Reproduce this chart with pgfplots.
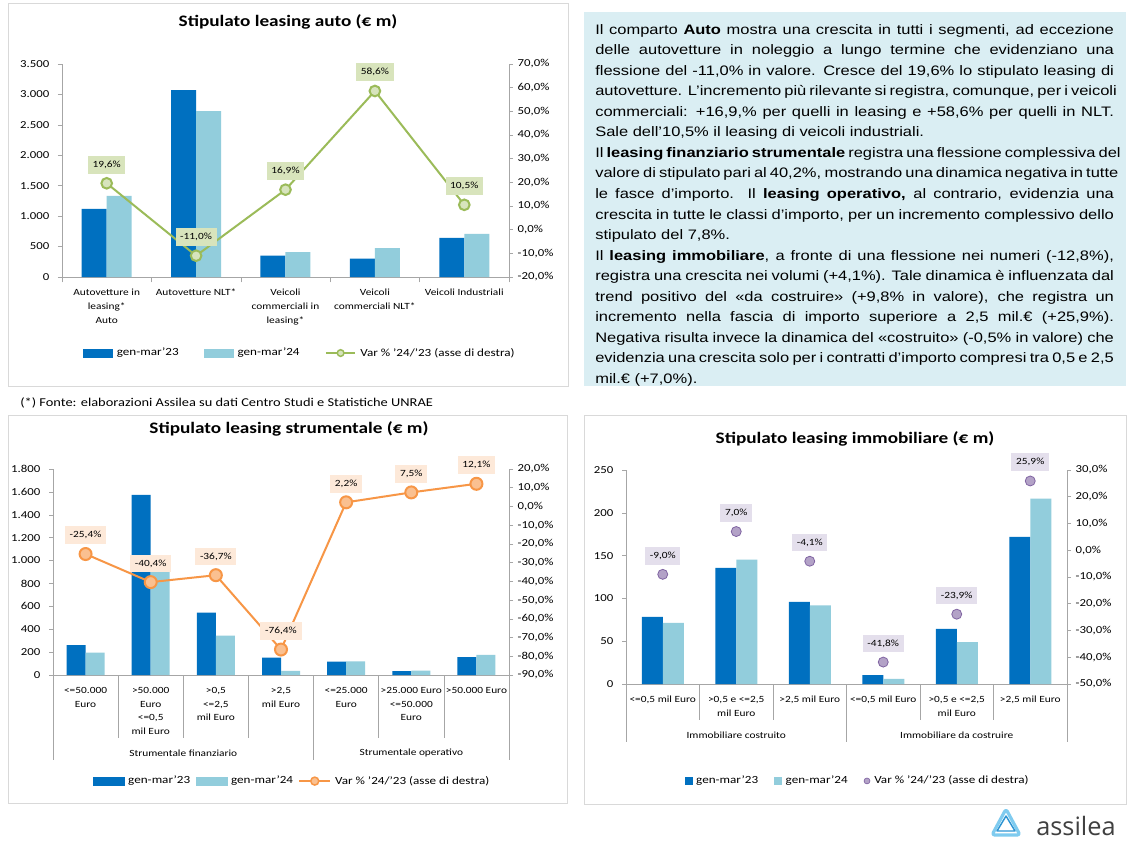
\documentclass[border=0pt]{standalone}
\usepackage{fontspec}
\setmainfont{Carlito}[FakeStretch=1.2]
\newfontfamily\arialf{Liberation Sans}[FakeStretch=1.2]
\newfontfamily\logof{Open Sans}
\usepackage{pgfplots}
\pgfplotsset{compat=1.18}
\definecolor{c23}{HTML}{0070C0}
\definecolor{c24}{HTML}{92CDDC}
\definecolor{lgreen}{HTML}{9BBB59}
\definecolor{lgreenfill}{HTML}{D7E4BD}
\definecolor{lgreenlab}{HTML}{D8E4BC}
\definecolor{lor}{HTML}{F79646}
\definecolor{lorfill}{HTML}{FAC090}
\definecolor{lorlab}{HTML}{FDE9D9}
\definecolor{lpu}{HTML}{8064A2}
\definecolor{lpufill}{HTML}{B3A2C7}
\definecolor{lpulab}{HTML}{E4DFEC}
\definecolor{axgray}{HTML}{A6A6A6}
\definecolor{framegray}{HTML}{D9D9D9}
\definecolor{boxblue}{HTML}{DAEEF3}
\definecolor{logoblue}{HTML}{2E95D3}
\definecolor{logolight}{HTML}{7FCBEF}
\definecolor{logogray}{HTML}{404040}
\pgfkeys{/pgf/number format/assume math mode=true}
\pgfplotsset{
  base/.style={scale only axis, anchor=south west, clip=false,
    axis line style={draw=axgray}, tick style={draw=axgray, thin},
    tick align=outside, major tick length=3pt,
    yticklabel style={font=\fontsize{8}{10}\selectfont},
    xticklabel style={font=\fontsize{7.1}{10.3}\selectfont, align=center, anchor=north, inner sep=0pt, yshift=-6pt},
  },
  leftax/.style={axis y line*=left, axis x line*=bottom, scaled y ticks=false,
    yticklabel style={/pgf/number format/.cd, fixed, 1000 sep={.}, /tikz/.cd, xshift=-3pt},
    major x tick style={draw=none}},
  rightax/.style={axis y line*=right, axis x line=none,
    yticklabel={\pgfmathprintnumber[fixed,fixed zerofill,precision=1,use comma]{\tick}\%}},
  bar23/.style={ybar, fill=c23, draw=none},
  bar24/.style={ybar, fill=c24, draw=none},
  pctlabels/.style={nodes near coords={\pgfmathprintnumber[fixed,fixed zerofill,precision=1,use comma]{\pgfplotspointmeta}\%},
    every node near coord/.append style={font=\fontsize{7.1}{8}\selectfont, fill=#1, inner xsep=3.5pt, inner ysep=3.8pt, anchor=center, yshift=14pt, text=black}},
  leg/.style 2 args={legend style={at={#1}, anchor=center, draw=none, fill=none, font=\fontsize{8.2}{10}\selectfont,
    /tikz/every even column/.append style={column sep=#2},
    /tikz/every odd column/.append style={column sep=1pt}}, legend columns=-1, legend cell align=left},
}
\newcommand\jl[1]{\hbox to 389pt{#1}}
\begin{document}
\begin{tikzpicture}
\begin{scope}[x=0.75pt,y=-0.75pt]
\path[use as bounding box] (0,0) rectangle (1146,856);
\fill[white] (0,0) rectangle (1146,856);
\draw[framegray, line width=0.6pt] (8,3) rectangle (568,386);
\draw[framegray, line width=0.6pt] (8,415) rectangle (567,803);
\draw[framegray, line width=0.6pt] (584,415) rectangle (1126,804);
\fill[boxblue] (584,12) rectangle (1126,386);
\node[anchor=north west, inner sep=0pt] at (595,24) {\vbox{\arialf\fontsize{10.3}{15.4}\selectfont
\jl{Il comparto \textbf{Auto} mostra una crescita in tutti i segmenti, ad eccezione}
\jl{delle autovetture in noleggio a lungo termine che evidenziano una}
\jl{flessione del -11,0\% in valore. Cresce del 19,6\% lo stipulato leasing di}
\jl{autovetture. L’incremento più rilevante si registra, comunque, per i veicoli}
\jl{commerciali: +16,9,\% per quelli in leasing e +58,6\% per quelli in NLT.}
\hbox{Sale dell’10,5\% il leasing di veicoli industriali.}
\jl{Il \textbf{leasing finanziario strumentale} registra una flessione complessiva del}
\jl{valore di stipulato pari al 40,2\%, mostrando una dinamica negativa in tutte}
\jl{le fasce d’importo. Il \textbf{leasing operativo,} al contrario, evidenzia una}
\jl{crescita in tutte le classi d’importo, per un incremento complessivo dello}
\hbox{stipulato del 7,8\%.}
\jl{Il \textbf{leasing immobiliare}, a fronte di una flessione nei numeri (-12,8\%),}
\jl{registra una crescita nei volumi (+4,1\%). Tale dinamica è influenzata dal}
\jl{trend positivo del «da costruire» (+9,8\% in valore), che registra un}
\jl{incremento nella fascia di importo superiore a 2,5 mil.€ (+25,9\%).}
\jl{Negativa risulta invece la dinamica del «costruito» (-0,5\% in valore) che}
\jl{evidenzia una crescita solo per i contratti d’importo compresi tra 0,5 e 2,5}
\hbox{mil.€ (+7,0\%).}}};
\node[font=\bfseries\fontsize{12}{14}\selectfont] at (288,22) {Stipulato leasing auto (€ m)};
\node[font=\bfseries\fontsize{12}{14}\selectfont] at (289,429) {Stipulato leasing strumentale (€ m)};
\node[font=\bfseries\fontsize{12}{14}\selectfont] at (855,439) {Stipulato leasing immobiliare (€ m)};
\node[anchor=west, font=\fontsize{9}{10}\selectfont, inner sep=0pt] at (20,403) {(*) Fonte: elaborazioni Assilea su dati Centro Studi e Statistiche UNRAE};
\draw[logolight, line width=2.4pt, line join=round, rounded corners=2pt] (1006,809) -- (1020,835) -- (992,835) -- cycle;
\draw[logoblue, line width=1.1pt, line join=round] (1006,816) -- (1015,831) -- (997,831) -- cycle;
\node[anchor=west, font=\logof\fontsize{19}{20}\selectfont, text=logogray, inner sep=0pt] at (1036,826) {assilea};
\end{scope}

% ---------- Chart 1: auto ----------
\begin{axis}[base, leftax, at={(46.5pt,-207.75pt)}, width=335.25pt, height=159.75pt,
  xmin=-0.5, xmax=4.5, ymin=0, ymax=3500, ytick={0,500,...,3500},
  xtick={0,...,4},
  xticklabels={{Autovetture in\\leasing*\\Auto},{Autovetture NLT*},{Veicoli\\commerciali in\\leasing*},{Veicoli\\commerciali NLT*},{Veicoli Industriali}},
  minor xtick={-0.5,0.5,...,4.5}, minor tick length=4pt]
\addplot[bar23, bar width=18.75pt, bar shift=-9.375pt] coordinates {(0,1120) (1,3072) (2,350) (3,300) (4,641)};
\addplot[bar24, bar width=18.75pt, bar shift=9.375pt] coordinates {(0,1335) (1,2727) (2,409) (3,476) (4,707)};
\end{axis}
\begin{axis}[base, rightax, at={(46.5pt,-207.75pt)}, width=335.25pt, height=159.75pt,
  xmin=-0.5, xmax=4.5, ymin=-20, ymax=70, ytick={-20,-10,...,70}, leg={(0.533,-0.357)}{17pt}]
\addlegendimage{legend image code/.code={\fill[c23] (0pt,-3pt) rectangle (21.75pt,3pt);}}
\addlegendentry{gen-mar'23}
\addlegendimage{legend image code/.code={\fill[c24] (0pt,-3pt) rectangle (21.75pt,3pt);}}
\addlegendentry{gen-mar'24}
\addlegendimage{legend image code/.code={\draw[lgreen, line width=1.5pt] (0pt,0pt) -- (22pt,0pt); \draw[lgreen, line width=1.1pt, fill=lgreenfill] (11pt,0pt) circle (2.5pt);}}
\addlegendentry{Var \% '24/'23 (asse di destra)}
\addplot[forget plot, lgreen, line width=1.5pt, mark=*, mark size=4pt, mark options={fill=lgreenfill, draw=lgreen, line width=1.5pt}, pctlabels=lgreenlab]
  coordinates {(0,19.6) (1,-11.0) (2,16.9) (3,58.6) (4,10.5)};
\end{axis}

% ---------- Chart 2: strumentale ----------
\begin{axis}[base, leftax, at={(39.75pt,-506.25pt)}, width=342pt, height=154.5pt,
  xmin=-0.5, xmax=6.5, ymin=0, ymax=1800, ytick={0,200,...,1800},
  xtick={0,...,6},
  xticklabels={{<=50.000\\Euro},{>50.000\\Euro\\<=0,5\\mil Euro},{>0,5\\<=2,5\\mil Euro},{>2,5\\mil Euro},{<=25.000\\Euro},{>25.000 Euro\\<=50.000\\Euro},{>50.000 Euro}}]
\addplot[bar23, bar width=14.25pt, bar shift=-7.125pt] coordinates {(0,262) (1,1575) (2,545) (3,151) (4,117) (5,35) (6,157)};
\addplot[bar24, bar width=14.25pt, bar shift=7.125pt] coordinates {(0,195) (1,938) (2,345) (3,36) (4,120) (5,37.6) (6,176)};
\pgfplotsinvokeforeach{0.5,1.5,2.5,4.5,5.5}{\draw[axgray] (axis cs:#1,0) -- ([yshift=-47.25pt]axis cs:#1,0);}
\pgfplotsinvokeforeach{-0.5,3.5,6.5}{\draw[axgray] (axis cs:#1,0) -- ([yshift=-63.75pt]axis cs:#1,0);}
\node[font=\fontsize{7.1}{10}\selectfont] at (axis cs:1.5,0) [yshift=-58.5pt] {Strumentale finanziario};
\node[font=\fontsize{7.1}{10}\selectfont] at (axis cs:5,0) [yshift=-58.5pt] {Strumentale operativo};
\end{axis}
\begin{axis}[base, rightax, at={(39.75pt,-506.25pt)}, width=342pt, height=154.5pt,
  xmin=-0.5, xmax=6.5, ymin=-90, ymax=20, ytick={-90,-80,...,20}, leg={(0.525,-0.515)}{2pt}]
\addlegendimage{legend image code/.code={\fill[c23] (0pt,-3pt) rectangle (23.25pt,3pt);}}
\addlegendentry{gen-mar'23}
\addlegendimage{legend image code/.code={\fill[c24] (0pt,-3pt) rectangle (23.25pt,3pt);}}
\addlegendentry{gen-mar'24}
\addlegendimage{legend image code/.code={\draw[lor, line width=1.5pt] (0pt,0pt) -- (23pt,0pt); \draw[lor, line width=1.1pt, fill=lorfill] (11.5pt,0pt) circle (3pt);}}
\addlegendentry{Var \% '24/'23 (asse di destra)}
\addplot[forget plot, lor, line width=1.5pt, mark=*, mark size=4.5pt, mark options={fill=lorfill, draw=lor, line width=1.5pt}, pctlabels=lorlab]
  coordinates {(0,-25.4) (1,-40.4) (2,-36.7) (3,-76.4) (4,2.2) (5,7.5) (6,12.1)};
\end{axis}

% ---------- Chart 3: immobiliare ----------
\begin{axis}[base, leftax, at={(469.5pt,-513pt)}, width=330.75pt, height=160.5pt,
  xmin=-0.5, xmax=5.5, ymin=0, ymax=250, ytick={0,50,...,250},
  xtick={0,...,5},
  xticklabels={{<=0,5 mil Euro},{>0,5 e <=2,5\\mil Euro},{>2,5 mil Euro},{<=0,5 mil Euro},{>0,5 e <=2,5\\mil Euro},{>2,5 mil Euro}}]
\addplot[bar23, bar width=15.75pt, bar shift=-7.875pt] coordinates {(0,78.4) (1,135.7) (2,95.9) (3,10.5) (4,64.4) (5,172)};
\addplot[bar24, bar width=15.75pt, bar shift=7.875pt] coordinates {(0,71.4) (1,145.2) (2,92) (3,6.1) (4,49) (5,216.5)};
\pgfplotsinvokeforeach{0.5,1.5,3.5,4.5}{\draw[axgray] (axis cs:#1,0) -- ([yshift=-27pt]axis cs:#1,0);}
\pgfplotsinvokeforeach{-0.5,2.5,5.5}{\draw[axgray] (axis cs:#1,0) -- ([yshift=-43.5pt]axis cs:#1,0);}
\node[font=\fontsize{7.1}{10}\selectfont] at (axis cs:1,0) [yshift=-38.25pt] {Immobiliare costruito};
\node[font=\fontsize{7.1}{10}\selectfont] at (axis cs:4,0) [yshift=-38.25pt] {Immobiliare da costruire};
\end{axis}
\begin{axis}[base, rightax, at={(469.5pt,-513pt)}, width=330.75pt, height=160.5pt,
  xmin=-0.5, xmax=5.5, ymin=-50, ymax=30, ytick={-50,-40,...,30}, leg={(0.526,-0.453)}{10pt}]
\addlegendimage{legend image code/.code={\fill[c23] (0pt,-2.6pt) rectangle (5.25pt,2.6pt);}}
\addlegendentry{gen-mar'23}
\addlegendimage{legend image code/.code={\fill[c24] (0pt,-2.6pt) rectangle (5.25pt,2.6pt);}}
\addlegendentry{gen-mar'24}
\addlegendimage{legend image code/.code={\draw[lpu, line width=0.5pt, fill=lpufill] (2.6pt,0pt) circle (2.2pt);}}
\addlegendentry{Var \% '24/'23 (asse di destra)}
\addplot[forget plot, only marks, mark=*, mark size=3.75pt, mark options={fill=lpufill, draw=lpu, line width=0.6pt}, pctlabels=lpulab]
  coordinates {(0,-9.0) (1,7.0) (2,-4.1) (3,-41.8) (4,-23.9) (5,25.9)};
\end{axis}
\end{tikzpicture}
\end{document}
